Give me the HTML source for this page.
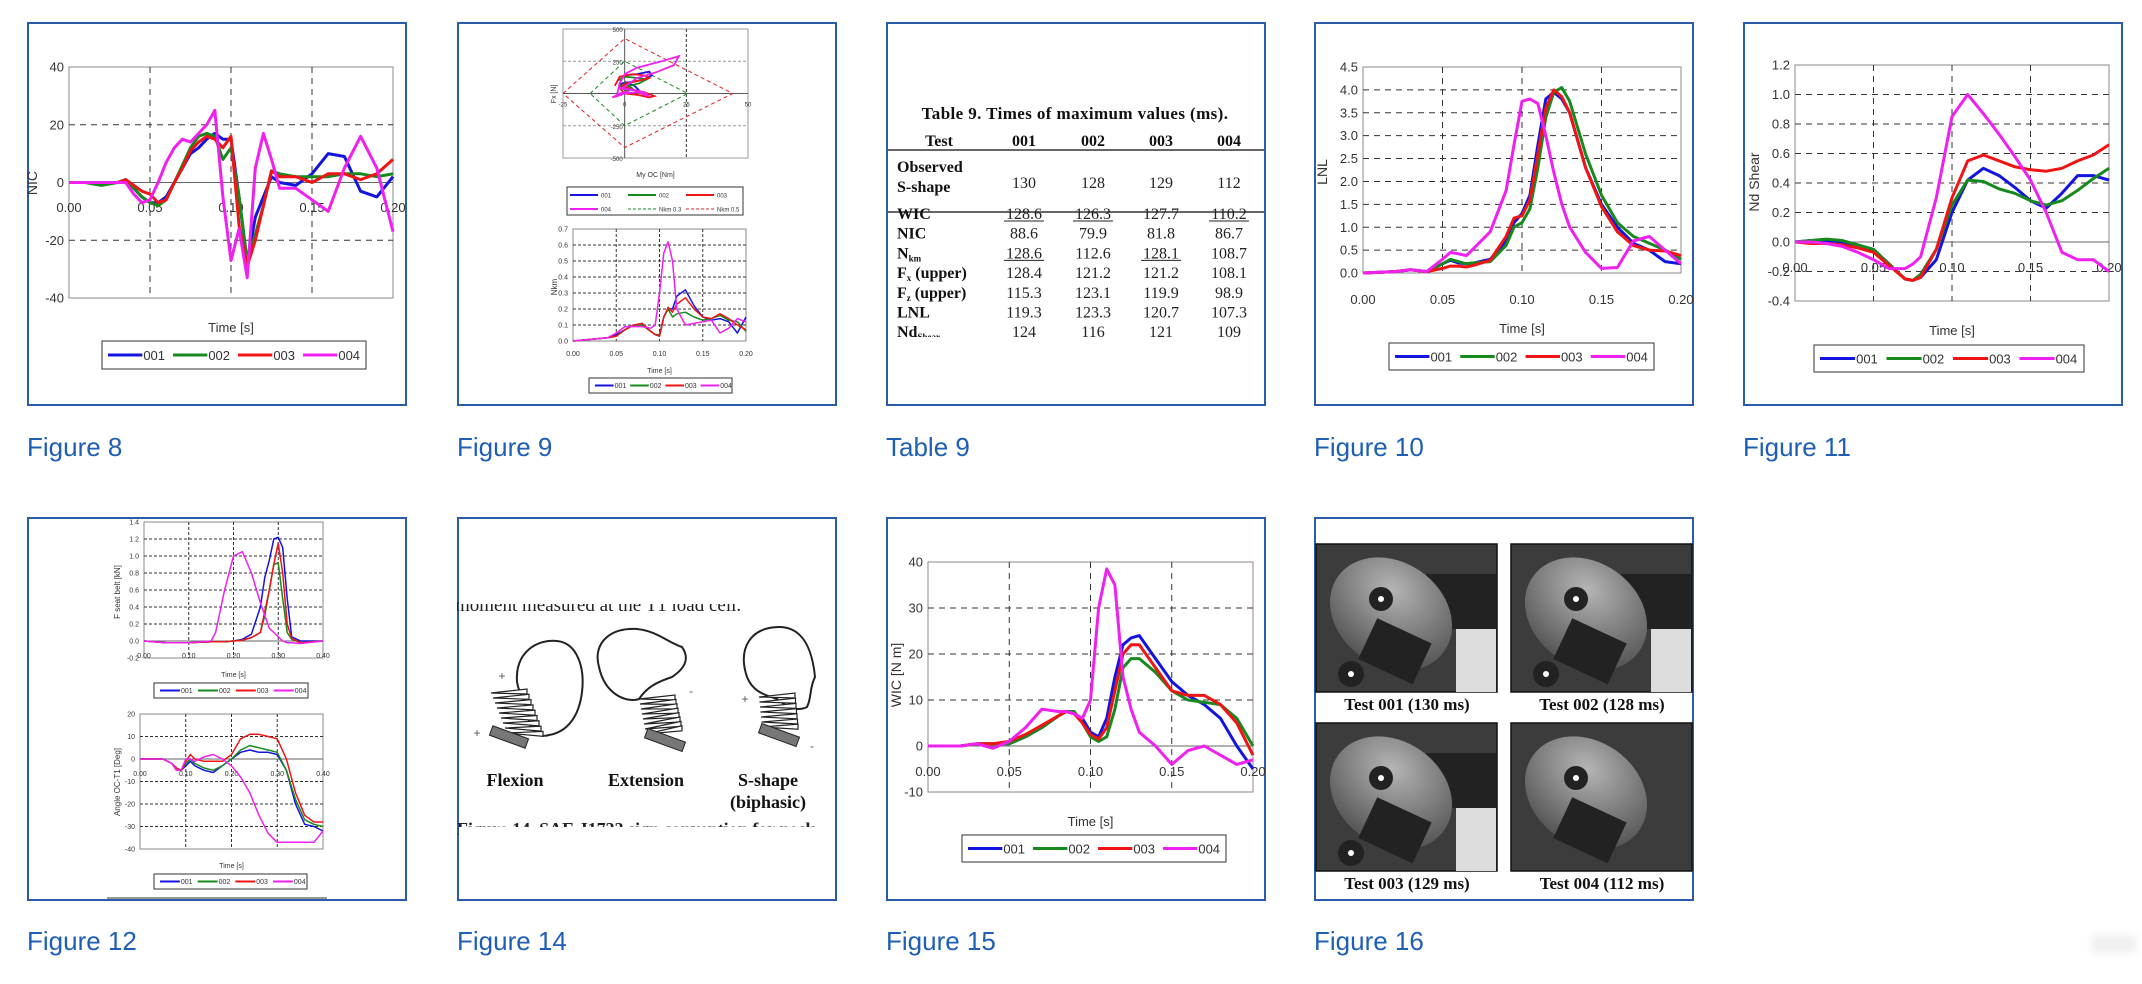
<!DOCTYPE html>
<html><head><meta charset="utf-8"><style>
html,body{margin:0;padding:0;background:#fff}
body{width:2142px;height:984px;position:relative;overflow:hidden;font-family:"Liberation Sans",sans-serif}
.box{position:absolute;width:380px;height:384px;box-sizing:border-box;border:2px solid #2a5caa;background:#fff}
.box svg{position:absolute;left:-2px;top:-2px;overflow:hidden}
.cap{position:absolute;font-size:26px;color:#1f5eb5;font-family:"Liberation Sans",sans-serif}
</style></head><body>
<div class="box" style="left:27px;top:22px"><svg id="f8" width="380" height="384"></svg></div>
<div class="box" style="left:457px;top:22px"><svg id="f9" width="380" height="384"></svg></div>
<div class="box" style="left:886px;top:22px"><svg id="t9" width="380" height="384"></svg></div>
<div class="box" style="left:1314px;top:22px"><svg id="f10" width="380" height="384"></svg></div>
<div class="box" style="left:1743px;top:22px"><svg id="f11" width="380" height="384"></svg></div>
<div class="box" style="left:27px;top:517px"><svg id="f12" width="380" height="384"></svg></div>
<div class="box" style="left:457px;top:517px"><svg id="f14" width="380" height="384"></svg></div>
<div class="box" style="left:886px;top:517px"><svg id="f15" width="380" height="384"></svg></div>
<div class="box" style="left:1314px;top:517px"><svg id="f16" width="380" height="384"></svg></div>

<div class="cap" style="left:27px;top:432px">Figure 8</div>
<div class="cap" style="left:457px;top:432px">Figure 9</div>
<div class="cap" style="left:886px;top:432px">Table 9</div>
<div class="cap" style="left:1314px;top:432px">Figure 10</div>
<div class="cap" style="left:1743px;top:432px">Figure 11</div>
<div class="cap" style="left:27px;top:926px">Figure 12</div>
<div class="cap" style="left:457px;top:926px">Figure 14</div>
<div class="cap" style="left:886px;top:926px">Figure 15</div>
<div class="cap" style="left:1314px;top:926px">Figure 16</div>
<div style="position:absolute;left:2092px;top:936px;width:44px;height:16px;background:#eee;filter:blur(4px)"></div>

<script>
const NS='http://www.w3.org/2000/svg';
const COLORS=['#1414e0','#178a1e','#f01414','#f020f0'];
const NAMES=['001','002','003','004'];

// Figure 8 NIC
const t8=[0,.01,.02,.03,.035,.04,.045,.05,.055,.06,.065,.07,.075,.08,.085,.09,.095,.1,.105,.11,.115,.12,.125,.13,.14,.15,.16,.17,.18,.19,.2];
const nic001=[0,0,0,0,1,-2,-5,-7,-7,-5,0,5,10,12,15,17,15,15,-5,-28,-12,-5,2,0,-1,3,10,9,-3,-5,2];
const nic002=[0,0,-1,0,1,-2,-5,-7,-8,-6,0,6,12,16,17,16,8,12,-5,-27,-18,-8,4,3,2,2,2,3,3,2,3];
const nic003=[0,0,0,0,1,-1,-3,-4,-7,-6,0,5,11,14,16,15,12,16,-15,-29,-20,-8,4,2,2,0,3,3,1,3,8];
const nic004=[0,0,0,0,0,-4,-7,-6,0,7,12,15,14,17,20,25,-5,-27,-16,-33,5,17,8,-2,-2,-6,-10,5,16,5,-17];
const yTicks8=[-40,-20,0,20,40];
const xTicks=[0,.05,.1,.15,.2];

// Figure 9 top (Fx vs My)
const my004=[-3,-2,0,5,15,22,20,12,5,2,0,-2,3,8,10,5,0,-3,-5,-2,2];
const fx004=[0,80,150,200,250,290,220,160,120,80,50,40,30,10,-20,10,0,-20,-30,0,20];
const my001=[-2,0,5,10,11,8,3,-1,-2,2,6,4,0];
const fx001=[100,140,150,170,140,110,90,80,60,30,20,60,90];
const my002=[-3,0,5,9,6,2,0,-2,0,3,0];
const fx002=[100,130,120,110,80,60,30,50,80,40,20];
const my003=[-4,-2,3,8,10,6,1,-1,3,8,12,10,5,0,-2];
const fx003=[60,130,150,140,120,100,80,60,30,10,-20,-30,-10,0,40];
const nkm03My=[-14,0,25.6,0,-14];
const nkm03Fx=[0,250,0,-250,0];
const nkm05My=[-25,0,43.8,0,-25];
const nkm05Fx=[0,426,0,-419,0];
// Figure 9 bottom Nkm
const t9=[0,.02,.04,.05,.06,.07,.08,.09,.095,.1,.105,.11,.115,.12,.13,.14,.15,.16,.17,.18,.19,.2];
const nkm001=[0,.01,.02,.04,.07,.1,.1,.06,.04,.03,.15,.2,.2,.28,.32,.22,.15,.13,.14,.12,.05,.15];
const nkm002=[0,.01,.02,.03,.07,.1,.1,.06,.04,.04,.15,.2,.15,.17,.18,.15,.13,.14,.16,.13,.12,.06];
const nkm003=[0,.01,.02,.03,.07,.1,.11,.06,.04,.03,.15,.21,.18,.23,.27,.2,.15,.14,.17,.14,.1,.07];
const nkm004=[0,.01,.02,.05,.09,.09,.09,.08,.1,.3,.55,.62,.5,.2,.1,.11,.12,.13,.05,.08,.14,.12];

// Figure 10 LNL
const t10=[0,.02,.03,.04,.05,.055,.06,.065,.07,.08,.09,.095,.1,.105,.11,.115,.12,.125,.13,.14,.15,.16,.17,.18,.19,.2];
const lnl001=[0,.03,.07,.03,.2,.28,.22,.2,.22,.3,.7,1.1,1.3,1.7,2.8,3.8,3.95,3.8,3.5,2.3,1.5,1.0,.65,.5,.25,.2];
const lnl002=[0,.03,.07,.03,.2,.3,.25,.2,.22,.25,.6,1.0,1.1,1.4,2.3,3.4,3.95,4.05,3.75,2.6,1.7,1.1,.8,.65,.5,.3];
const lnl003=[0,.03,.07,.03,.1,.15,.15,.13,.17,.28,.8,1.2,1.25,1.6,2.6,3.6,4.0,3.85,3.5,2.3,1.45,.9,.6,.5,.48,.38];
const lnl004=[0,.03,.07,.03,.3,.45,.42,.38,.55,.9,1.8,2.8,3.75,3.8,3.7,3.0,2.2,1.5,1.0,.45,.1,.12,.7,.8,.5,.2];

// Figure 11 Nd shear
const t11=[0,.01,.02,.03,.04,.05,.06,.07,.075,.08,.09,.1,.11,.12,.13,.14,.15,.16,.17,.18,.19,.2];
const nd001=[0,.01,.01,0,-.02,-.05,-.15,-.25,-.26,-.24,-.12,.2,.42,.5,.45,.37,.28,.23,.33,.45,.45,.42];
const nd002=[0,.01,.02,.01,-.02,-.05,-.15,-.25,-.26,-.22,-.05,.25,.42,.41,.36,.33,.28,.25,.28,.35,.43,.5];
const nd003=[0,-.01,-.01,-.02,-.04,-.07,-.16,-.25,-.26,-.24,-.05,.3,.55,.59,.55,.51,.49,.48,.5,.55,.59,.66];
const nd004=[0,0,-.01,-.03,-.07,-.12,-.18,-.18,-.15,-.1,.3,.85,1.0,.87,.73,.58,.42,.2,-.07,-.12,-.12,-.2];

// Figure 12
const t12a=[0,.05,.1,.15,.16,.18,.2,.22,.24,.26,.27,.28,.29,.3,.31,.32,.33,.35,.4];
const belt001=[0,-.02,-.02,-.01,-.01,-.01,0,.02,.08,.4,.75,.95,1.2,1.22,1.1,.5,.05,0,0];
const belt002=[0,-.02,-.02,-.01,-.01,-.01,0,.01,.04,.1,.3,.6,.9,.92,.5,.1,.02,-.02,0];
const belt003=[0,-.02,-.02,-.01,-.01,-.01,0,.01,.04,.1,.35,.6,.9,1.15,.8,.2,.03,-.02,0];
const belt004=[0,-.02,-.02,0,.1,.6,1.0,1.05,.8,.45,.3,.15,.1,.05,0,-.02,-.02,-.03,0];
const t12b=[0,.05,.07,.08,.09,.1,.11,.12,.14,.16,.18,.2,.22,.24,.26,.28,.3,.32,.34,.36,.38,.4];
const ang001=[0,0,-2,-5,-5,-3,-1,-3,-5,-6,-3,0,3,4,3,3,2,-5,-20,-29,-30,-32];
const ang002=[0,0,-2,-5,-5,-2,0,-2,-4,-5,-3,0,4,6,5,4,3,-5,-18,-27,-29,-30];
const ang003=[0,0,-2,-4,-5,-1,2,0,-1,-1,-1,2,9,11,11,10,9,0,-15,-25,-28,-28];
const ang004=[0,0,-2,-5,-5,0,0,-1,1,2,0,-3,-8,-15,-25,-33,-37,-37,-37,-37,-37,-32];

// Figure 15 WIC
const t15=[0,.02,.03,.04,.05,.06,.07,.08,.085,.09,.095,.1,.105,.11,.115,.12,.125,.13,.14,.15,.16,.17,.18,.19,.2];
const wic001=[0,0,.5,.5,.5,2,4,6.5,7.5,7,6,3,2,6,15,22,23.5,24,19,14,11,9,6,0,-5];
const wic002=[0,0,.5,.5,.5,2,4,6.5,7.5,7.5,5,2,1,2,8,17,19,19,16,12,10,9.5,9,6,0];
const wic003=[0,0,.5,.5,1,2.5,4.5,6.5,7.5,7,5,2.5,1.5,4,12,20,22,22,17,12,11,11,9,5,-2];
const wic004=[0,0,.5,-.5,1,4,8,7.5,7.5,7,6,10,30,38.5,35,15,8,3,0,-4,-1,0,-2,-4,-3];

// Table 9
const tblHead=['Test','001','002','003','004'];
const tblRows=[['WIC','128.6','126.3','127.7','110.2'],['NIC','88.6','79.9','81.8','86.7'],['N','128.6','112.6','128.1','108.7'],['F','128.4','121.2','121.2','108.1'],['F','115.3','123.1','119.9','98.9'],['LNL','119.3','123.3','120.7','107.3'],['Nd','124','116','121','109']];
const tblSub=['','','km','x','z','','Shear'];
const tblSuffix=['','','',' (upper)',' (upper)','',''];
const underlined=[[1,2,4],[],[1,3],[],[],[],[]];
const observed=['130','128','129','112'];

function mk(tag,attrs,parent){const e=document.createElementNS(NS,tag);for(const k in attrs)e.setAttribute(k,attrs[k]);if(parent)parent.appendChild(e);return e;}
function txt(parent,x,y,s,fs,anchor,extra){const e=mk('text',Object.assign({x:x,y:y,'font-size':fs,'text-anchor':anchor||'start',fill:'#333','font-family':'"Liberation Sans",sans-serif'},extra||{}),parent);e.textContent=s;return e;}

function chart(svg,c){
  const sx=v=>c.px+(v-c.xmin)/(c.xmax-c.xmin)*c.pw;
  const sy=v=>c.py+c.ph-(v-c.ymin)/(c.ymax-c.ymin)*c.ph;
  const g=mk('g',{},svg);
  
  
  const fr=mk('rect',{x:c.px,y:c.py,width:c.pw,height:c.ph,fill:'none',stroke:'#888','stroke-width':1},g);
  
  
  c.hGrid.forEach(v=>{const l=mk('line',{x1:c.px,x2:c.px+c.pw,y1:sy(v),y2:sy(v),stroke:'#333','stroke-dasharray':c.dash,'stroke-width':1},g);
    
    });
  c.vGrid.forEach(v=>{const l=mk('line',{x1:sx(v),x2:sx(v),y1:c.py,y2:c.py+c.ph,stroke:'#333','stroke-dasharray':c.dash,'stroke-width':1},g);
    
    });
  if(c.ymin<0){const z=mk('line',{x1:c.px,x2:c.px+c.pw,y1:sy(0),y2:sy(0),stroke:'#666','stroke-width':1},g);
    
    }
  c.yTicks.forEach(v=>{const e=txt(g,c.px-5,sy(v)+c.fs*0.35,v.toFixed(c.yDec),c.fs,'end');
    
    });
  c.xTicks.forEach(v=>{const e=txt(g,sx(v),c.xLabY,v.toFixed(2),c.fs,'middle');
    
    });
  c.series.forEach((s,i)=>{const p=mk('polyline',{points:s.map((v,j)=>sx(c.t[j]).toFixed(1)+','+sy(v).toFixed(1)).join(' '),fill:'none',stroke:COLORS[i],'stroke-width':c.sw,'stroke-linejoin':'round'},g);
    
    });
  const xt=txt(g,c.px+c.pw/2,c.timeY,'Time [s]',c.fs,'middle');
  
  
  const yt=txt(g,0,0,c.ylab,c.fs+1,'middle',{transform:'translate('+c.ylx+','+c.yly+') rotate(-90)'});
  
  
  legend(svg,c.lg[0],c.lg[1],c.lg[2],c.lg[3],c.fs);
}
function legend(svg,x,y,w,h,fs){
  const g=mk('g',{},svg);
  
  
  mk('rect',{x:x,y:y,width:w,height:h,fill:'#fff',stroke:'#333','stroke-width':1},g);
  const ew=w/4, ll=ew*0.52;
  NAMES.forEach((n,i)=>{const ex=x+6+i*ew*0.985;
    const l=mk('line',{x1:ex,x2:ex+ll,y1:y+h/2,y2:y+h/2,stroke:COLORS[i],'stroke-width':fs>9?3:2},g);
    
    
    const e=txt(g,ex+ll+1,y+h/2+fs*0.38,n,fs,'start');
    
    });
}

// Fig 8
chart(document.getElementById('f8'),{name:'nic-plot',px:42,py:45,pw:324,ph:231,xmin:0,xmax:.2,ymin:-40,ymax:40,hGrid:[-20,20],vGrid:[.05,.1,.15],yTicks:yTicks8,yDec:0,xTicks:xTicks,xLabY:190,fs:13,sw:3,dash:'6,5',t:t8,series:[nic001,nic002,nic003,nic004],timeY:310,ylab:'NIC',ylx:10,yly:161,lg:[75,319,264,28]});
// Fig 10
chart(document.getElementById('f10'),{name:'lnl-plot',px:49,py:45,pw:318,ph:206,xmin:0,xmax:.2,ymin:0,ymax:4.5,hGrid:[.5,1,1.5,2,2.5,3,3.5,4],vGrid:[.05,.1,.15],yTicks:[0,.5,1,1.5,2,2.5,3,3.5,4,4.5],yDec:1,xTicks:xTicks,xLabY:282,fs:13,sw:3,dash:'6,5',t:t10,series:[lnl001,lnl002,lnl003,lnl004],timeY:311,ylab:'LNL',ylx:13,yly:150,lg:[75,321,265,27]});
// Fig 11
chart(document.getElementById('f11'),{name:'nd-shear-plot',px:52,py:43,pw:314,ph:236,xmin:0,xmax:.2,ymin:-.4,ymax:1.2,hGrid:[-.2,.2,.4,.6,.8,1.0],vGrid:[.05,.1,.15],yTicks:[-.4,-.2,0,.2,.4,.6,.8,1.0,1.2],yDec:1,xTicks:xTicks,xLabY:250,fs:13,sw:3,dash:'6,5',t:t11,series:[nd001,nd002,nd003,nd004],timeY:313,ylab:'Nd Shear',ylx:16,yly:160,lg:[71,323,270,27]});
// Fig 15
chart(document.getElementById('f15'),{name:'wic-plot',px:42,py:45,pw:325,ph:230,xmin:0,xmax:.2,ymin:-10,ymax:40,hGrid:[10,20,30],vGrid:[.05,.1,.15],yTicks:[-10,0,10,20,30,40],yDec:0,xTicks:xTicks,xLabY:259,fs:13,sw:3,dash:'6,5',t:t15,series:[wic001,wic002,wic003,wic004],timeY:309,ylab:'WIC [N m]',ylx:15,yly:158,lg:[76,318,264,27]});
// Fig 9 bottom
chart(document.getElementById('f9'),{name:'nkm-time-plot',px:116,py:207,pw:173,ph:112,xmin:0,xmax:.2,ymin:0,ymax:.7,hGrid:[.1,.2,.3,.4,.5,.6],vGrid:[.05,.1,.15],yTicks:[0,.1,.2,.3,.4,.5,.6,.7],yDec:1,xTicks:xTicks,xLabY:334,fs:7,sw:1.5,dash:'3,2',t:t9,series:[nkm001,nkm002,nkm003,nkm004],timeY:351,ylab:'Nkm',ylx:100,yly:265,lg:[132,356,143,15]});
// Fig 12
const f12=document.getElementById('f12');
chart(f12,{name:'seatbelt-plot',px:117,py:5,pw:179,ph:136,xmin:0,xmax:.4,ymin:-.2,ymax:1.4,hGrid:[.2,.4,.6,.8,1.0,1.2],vGrid:[.1,.2,.3],yTicks:[-.2,0,.2,.4,.6,.8,1.0,1.2,1.4],yDec:1,xTicks:[0,.1,.2,.3,.4],xLabY:141,fs:7,sw:1.5,dash:'3,2',t:t12a,series:[belt001,belt002,belt003,belt004],timeY:160,ylab:'F seat belt [kN]',ylx:93,yly:75,lg:[127,166,154,15]});
chart(f12,{name:'angle-plot',px:113,py:197,pw:183,ph:135,xmin:0,xmax:.4,ymin:-40,ymax:20,hGrid:[-30,-20,-10,10],vGrid:[.1,.2,.3],yTicks:[-40,-30,-20,-10,0,10,20],yDec:0,xTicks:[0,.1,.2,.3,.4],xLabY:259,fs:7,sw:1.5,dash:'3,2',t:t12b,series:[ang001,ang002,ang003,ang004],timeY:351,ylab:'Angle OC-T1 [Deg]',ylx:93,yly:265,lg:[127,357,153,15]});
(function(){const r=mk('rect',{x:80,y:380,width:220,height:2,fill:'#999'},f12);

})();

// Fig 9 top scatter
(function(){
  const svg=document.getElementById('f9');
  const px=106,py=7,pw=185,ph=129,xmin=-25,xmax=50,ymin=-500,ymax=500;
  const sx=v=>px+(v-xmin)/(xmax-xmin)*pw, sy=v=>py+ph-(v-ymin)/(ymax-ymin)*ph;
  const g=mk('g',{},svg);
  
  
  mk('rect',{x:px,y:py,width:pw,height:ph,fill:'none',stroke:'#999'},g);
  [[-250],[250]].forEach(a=>{const l=mk('line',{x1:px,x2:px+pw,y1:sy(a[0]),y2:sy(a[0]),stroke:'#999','stroke-dasharray':'3,2'},g);
    
    });
  const vl=mk('line',{x1:sx(25),x2:sx(25),y1:py,y2:py+ph,stroke:'#333','stroke-dasharray':'3,2'},g);
  
  
  mk('line',{x1:sx(0),x2:sx(0),y1:py,y2:py+ph,stroke:'#555'},g);
  mk('line',{x1:px,x2:px+pw,y1:sy(0),y2:sy(0),stroke:'#555'},g);
  const d3=mk('polyline',{points:nkm03My.map((v,i)=>sx(v)+','+sy(nkm03Fx[i])).join(' '),fill:'none',stroke:'#178a1e','stroke-dasharray':'4,3'},g);
  
  
  const d5=mk('polyline',{points:nkm05My.map((v,i)=>sx(v)+','+sy(nkm05Fx[i])).join(' '),fill:'none',stroke:'#e02020','stroke-dasharray':'4,3'},g);
  
  
  [[my001,fx001],[my002,fx002],[my003,fx003],[my004,fx004]].forEach((s,i)=>{
    const p=mk('polyline',{points:s[0].map((v,j)=>sx(v).toFixed(1)+','+sy(s[1][j]).toFixed(1)).join(' '),fill:'none',stroke:COLORS[i],'stroke-width':1.8},g);
    
    });
  [[-25,'-25'],[0,'0'],[25,'25'],[50,'50']].forEach(a=>{const e=txt(g,sx(a[0]),sy(0)+13,a[1],6,'middle');
    
    });
  [[500,'500'],[250,'250'],[-250,'-250'],[-500,'-500']].forEach(a=>{const e=txt(g,sx(0)-2,sy(a[0])+3,a[1],6,'end');
    
    });
  const xt=txt(g,px+pw/2,155,'My OC [Nm]',7,'middle');
  
  
  const yt=txt(g,0,0,'Fx [N]',7,'middle',{transform:'translate('+(px-7)+',72) rotate(-90)'});
  
  
  const lg=mk('g',{},svg);
  
  
  mk('rect',{x:110,y:165,width:176,height:28,fill:'#fff',stroke:'#333'},lg);
  const ent=[['001','#1414e0',0],['002','#178a1e',0],['003','#f01414',0],['004','#f020f0',0],['Nkm 0.3','#178a1e',1],['Nkm 0.5','#e02020',1]];
  ent.forEach((e,i)=>{const cx=113+(i%3)*58, cy=173+Math.floor(i/3)*14;
    const l=mk('line',{x1:cx,x2:cx+(e[2]?30:28),y1:cy,y2:cy,stroke:e[1],'stroke-width':e[2]?1:2,'stroke-dasharray':e[2]?'3,2':'none'},lg);
    
    
    const t=txt(lg,cx+31,cy+2.5,e[0],6,'start');
    
    });
})();

// Table 9
(function(){
  const svg=document.getElementById('t9');
  const cols=[53,138,207,275,343];
  const serif='"Liberation Serif",serif';
  const tt=txt(svg,189,97,'Table 9.  Times of maximum values (ms).',17,'middle',{'font-family':serif,'font-weight':'bold',fill:'#111','letter-spacing':'0.4'});
  
  
  tblHead.forEach((h,i)=>{const e=txt(svg,cols[i],124,h,16,'middle',{'font-family':serif,'font-weight':'bold',fill:'#111'});
    
    });
  mk('line',{x1:2,x2:378,y1:128,y2:128,stroke:'#333','stroke-width':1.5},svg);
  mk('line',{x1:2,x2:378,y1:190,y2:190,stroke:'#333','stroke-width':1.5},svg);
  let e=txt(svg,11,150,'Observed',16,'start',{'font-family':serif,'font-weight':'bold',fill:'#111'});
  
  
  e=txt(svg,11,170,'S-shape',16,'start',{'font-family':serif,'font-weight':'bold',fill:'#111'});
  
  
  observed.forEach((v,i)=>{const c=txt(svg,cols[i+1],166,v,16,'middle',{'font-family':serif,fill:'#222'});
    
    });
  tblRows.forEach((r,ri)=>{const y=197+ri*19.7;
    const lab=txt(svg,11,y,'',16,'start',{'font-family':serif,'font-weight':'bold',fill:'#111'});
    
    
    const a=mk('tspan',{},lab);a.textContent=r[0];
    if(tblSub[ri]){const b=mk('tspan',{'font-size':9,dy:3},lab);b.textContent=tblSub[ri];}
    if(tblSuffix[ri]){const c=mk('tspan',{dy:-3},lab);c.textContent=tblSuffix[ri];}
    r.slice(1).forEach((v,ci)=>{const c=txt(svg,cols[ci+1],y,v,16,'middle',{'font-family':serif,fill:'#222'});
      
      
      if(underlined[ri].indexOf(ci+1)>=0)mk('line',{x1:cols[ci+1]-20,x2:cols[ci+1]+20,y1:y+2,y2:y+2,stroke:'#222'},svg);});
  });
  mk('rect',{x:2,y:315,width:376,height:40,fill:'#fff'},svg);
})();

// Fig 14
(function(){
  const svg=document.getElementById('f14');
  const serif='"Liberation Serif",serif';
  const t=txt(svg,-2,94,'moment measured at the T1 load cell.',19,'start',{'font-family':serif,fill:'#222'});
  
  
  mk('rect',{x:2,y:60,width:376,height:27,fill:'#fff'},svg);
  function neck(g,x0,y0,dx,dy,n,ang){for(let i=0;i<n;i++){const y=y0+i*dy, x=x0+i*dx;
    mk('polygon',{points:(x)+','+(y)+' '+(x+36)+','+(y-4+ang*i)+' '+(x+36)+','+(y+1+ang*i),fill:'#fff',stroke:'#222','stroke-width':1.2},g);}}
  const g1=mk('g',{},svg);
  mk('path',{d:'M60,165 C58,135 80,122 100,124 C120,126 128,150 125,175 C122,200 110,215 92,218 C80,222 70,210 72,196 C70,185 62,178 60,165 Z',fill:'#fff',stroke:'#222','stroke-width':2},g1);
  neck(g1,34,176,2,5,9,0.3);
  mk('rect',{x:33,y:215,width:38,height:10,fill:'#777',stroke:'#222',transform:'rotate(20 52 220)'},g1);
  txt(g1,45,163,'+',12,'middle',{fill:'#555'});txt(g1,20,220,'+',12,'middle',{fill:'#555'});
  const g2=mk('g',{},svg);
  mk('path',{d:'M142,150 C135,125 155,110 180,112 C200,114 210,125 225,130 C232,140 230,150 215,160 C200,165 190,170 182,182 C170,186 148,178 142,150 Z',fill:'#fff',stroke:'#222','stroke-width':2},g2);
  neck(g2,182,182,1,5,8,-0.6);
  mk('rect',{x:188,y:218,width:40,height:10,fill:'#777',stroke:'#222',transform:'rotate(20 208 223)'},g2);
  txt(g2,234,178,'-',12,'middle',{fill:'#555'});
  const g3=mk('g',{},svg);
  mk('path',{d:'M290,160 C280,130 295,110 322,110 C345,110 355,130 358,160 C352,172 355,180 350,190 C340,195 330,190 320,182 C308,178 296,175 290,160 Z',fill:'#fff',stroke:'#222','stroke-width':2},g3);
  neck(g3,302,180,0.5,5,7,0.2);
  mk('rect',{x:302,y:213,width:40,height:10,fill:'#777',stroke:'#222',transform:'rotate(20 322 218)'},g3);
  txt(g3,288,186,'+',12,'middle',{fill:'#555'});txt(g3,355,233,'-',12,'middle',{fill:'#555'});
  [['Flexion',58,269],['Extension',189,269],['S-shape',311,269],['(biphasic)',311,291]].forEach(a=>{
    const e=txt(svg,a[1],a[2],a[0],18,'middle',{'font-family':serif,'font-weight':'bold',fill:'#111'});
    
    });
  const cr=txt(svg,0,318,'Figure 14.  SAE J1733 sign convention for neck',18,'start',{'font-family':serif,'font-weight':'bold',fill:'#222'});
  
  
  mk('rect',{x:2,y:310,width:376,height:40,fill:'#fff'},svg);
})();

// Fig 16
(function(){
  const svg=document.getElementById('f16');
  const defs=mk('defs',{},svg);
  const rg=mk('radialGradient',{id:'hg',cx:'0.4',cy:'0.3',r:'0.7'},defs);
  mk('stop',{offset:'0','stop-color':'#b5b5b5'},rg);mk('stop',{offset:'1','stop-color':'#555'},rg);
  const photos=[[2,27,'Test 001 (130 ms)'],[197,27,'Test 002 (128 ms)'],[2,206,'Test 003 (129 ms)'],[197,206,'Test 004 (112 ms)']];
  photos.forEach((p,i)=>{const g=mk('g',{},svg);
    
    
    mk('rect',{x:p[0],y:p[1],width:181,height:148,fill:'#3c3c3c',stroke:'#111','stroke-width':1.5},g);
    if(i<3){mk('rect',{x:p[0]+110,y:p[1]+30,width:70,height:55,fill:'#222'},g);
      mk('rect',{x:p[0]+140,y:p[1]+85,width:40,height:63,fill:'#ddd'},g);}
    mk('ellipse',{cx:p[0]+75,cy:p[1]+70,rx:65,ry:52,fill:'url(#hg)',transform:'rotate(35 '+(p[0]+75)+' '+(p[1]+70)+')'},g);
    mk('rect',{x:p[0]+50,y:p[1]+85,width:60,height:45,fill:'#222',transform:'rotate(25 '+(p[0]+80)+' '+(p[1]+105)+')'},g);
    mk('circle',{cx:p[0]+65,cy:p[1]+55,r:12,fill:'#222'},g);
    mk('circle',{cx:p[0]+65,cy:p[1]+55,r:3,fill:'#fff'},g);
    if(i!==3){mk('circle',{cx:p[0]+35,cy:p[1]+130,r:13,fill:'#222'},g);mk('circle',{cx:p[0]+35,cy:p[1]+130,r:3,fill:'#fff'},g);}
    const e=txt(svg,p[0]+91,p[1]+166,p[2],17,'middle',{'font-family':'"Liberation Serif",serif','font-weight':'bold',fill:'#111'});
    
    });
})();
</script>
</body></html>
